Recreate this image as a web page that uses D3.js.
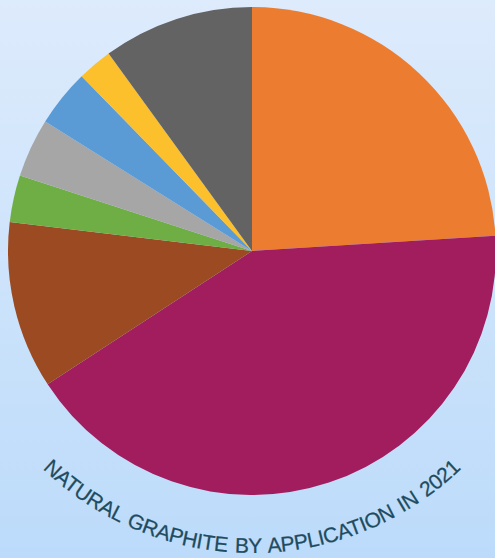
<!DOCTYPE html>
<html>
<head>
<meta charset="utf-8">
<script src="https://cdn.jsdelivr.net/npm/d3@7"></script>
<style>
  html, body { margin: 0; padding: 0; }
  body { width: 495px; height: 558px; overflow: hidden; }
</style>
</head>
<body>
<div id="chart"></div>
<script>
// Natural graphite consumption by application, 2021 (share in %)
const categories = ["Refractories", "Batteries", "Foundries", "Lubricants", "Brake linings", "Pencils", "Recarburizing", "Other"];
const shares = [24.0, 41.8, 11.1, 3.1, 3.9, 3.8, 2.3, 10.0];
const colors = ["#EC7D30", "#A11D5E", "#9B4A22", "#6FAE45", "#A6A6A6", "#5B9BD5", "#FBC02B", "#636363"];
const title = "NATURAL GRAPHITE BY APPLICATION IN 2021";

const W = 495, H = 558;
const cx = 252, cy = 251, R = 244;
const textR = 302;

const svg = d3.select("#chart").append("svg")
  .attr("width", W).attr("height", H);

const defs = svg.append("defs");
const bg = defs.append("linearGradient")
  .attr("id", "bg").attr("x1", 0).attr("y1", 0).attr("x2", 0).attr("y2", 1);
bg.append("stop").attr("offset", "0%").attr("stop-color", "#DDEBFC");
bg.append("stop").attr("offset", "100%").attr("stop-color", "#BCDBFA");

svg.append("rect").attr("width", W).attr("height", H).attr("fill", "url(#bg)");

const data = categories.map((c, i) => ({ name: c, value: shares[i] }));
const color = d3.scaleOrdinal().domain(categories).range(colors);

const pie = d3.pie().sort(null).value(d => d.value);
const arc = d3.arc().innerRadius(0).outerRadius(R);

const g = svg.append("g").attr("transform", `translate(${cx},${cy})`);
g.selectAll("path.slice")
  .data(pie(data))
  .join("path")
  .attr("class", "slice")
  .attr("d", arc)
  .attr("fill", d => color(d.data.name));

// Title set along an arc under the pie
defs.append("path")
  .attr("id", "titleArc")
  .attr("d", `M ${cx - textR},${cy} A ${textR},${textR} 0 0 0 ${cx + textR},${cy}`);

svg.append("text")
  .attr("font-family", "'Liberation Sans', Arial, Helvetica, sans-serif")
  .attr("font-size", 21)
  .attr("letter-spacing", -0.3)
  .attr("word-spacing", 2)
  .attr("fill", "#1E4B60")
  .attr("stroke", "#1E4B60")
  .attr("stroke-width", 0.25)
  .append("textPath")
  .attr("href", "#titleArc")
  .attr("startOffset", "50%")
  .attr("text-anchor", "middle")
  .text(title);
</script>
</body>
</html>
